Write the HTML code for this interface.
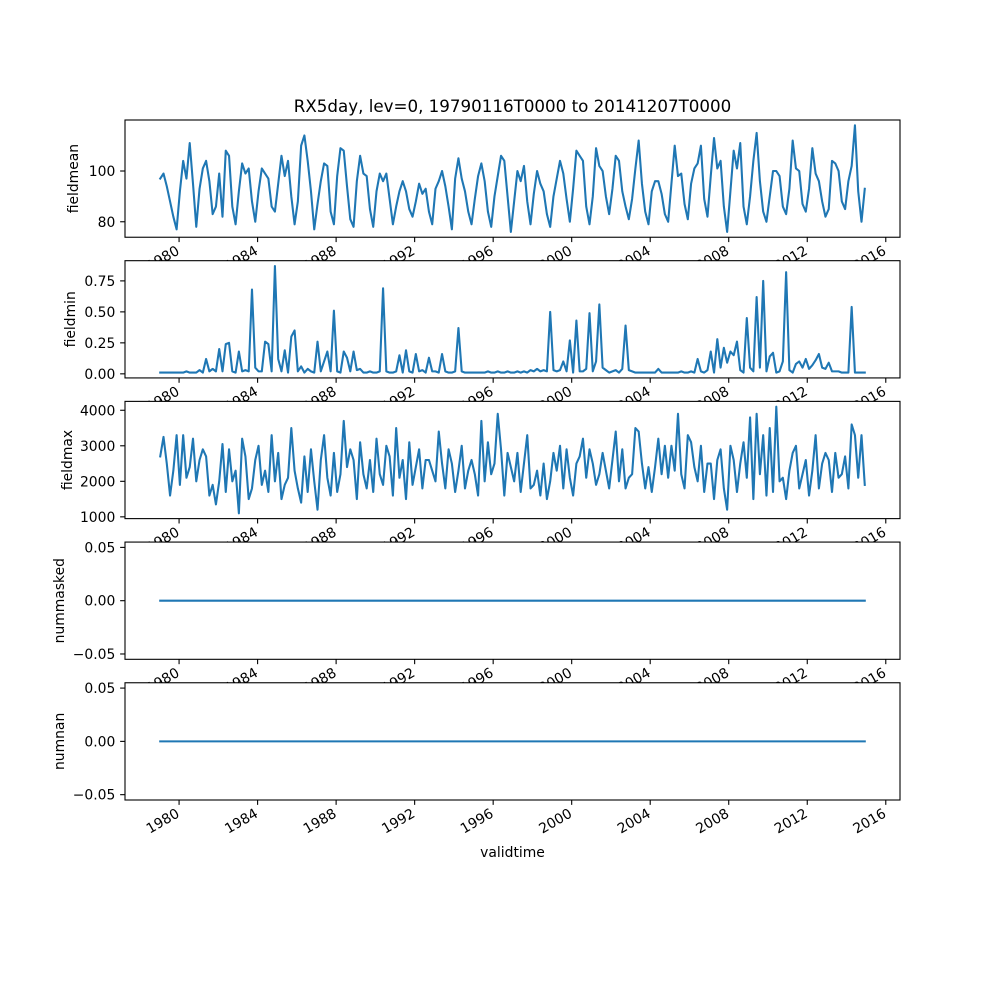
<!DOCTYPE html>
<html><head><meta charset="utf-8">
<style>
html,body{margin:0;padding:0;background:#fff;}
svg{display:block;font-family:"DejaVu Sans","Liberation Sans",sans-serif;}
</style></head>
<body>
<svg id="fig" width="1000" height="1000" viewBox="0 0 1000 1000" xmlns="http://www.w3.org/2000/svg">
<rect x="0" y="0" width="1000" height="1000" fill="#fff"/>
<text x="512.5" y="112" text-anchor="middle" font-size="16.7">RX5day, lev=0, 19790116T0000 to 20141207T0000</text>
<text x="512.5" y="857" text-anchor="middle" font-size="13.9">validtime</text>
</svg>
<script>
const startYear = 1979.04;
const endYear = 2014.93;
const xTickYears = [1980,1984,1988,1992,1996,2000,2004,2008,2012,2016];

const fieldmean = [
97,99,94,88,82,77, 92,104,97,111,95,78, 93,101,104,96,83,86, 99,82,108,106,86,79,
92,103,99,101,88,80, 92,101,99,97,86,84, 95,106,98,104,90,79, 88,110,114,104,92,77,
87,96,103,102,84,79, 98,109,108,94,81,78, 96,106,99,98,85,78, 92,99,96,99,89,79,
86,92,96,92,85,82, 88,95,91,93,84,79, 93,96,100,94,86,77, 97,105,97,92,84,79,
89,98,103,96,84,78, 90,98,106,104,90,76, 88,100,96,102,88,79, 91,100,95,92,83,78,
90,97,104,99,89,80, 93,108,106,104,86,79, 90,109,102,100,90,83, 93,106,104,92,86,81,
89,101,112,95,84,79, 92,96,96,91,83,80, 95,110,98,99,87,81, 95,101,103,110,89,82,
98,113,101,104,86,76, 92,108,101,111,86,79, 90,104,115,96,84,80, 90,100,100,98,86,83,
93,112,101,100,87,84, 93,109,99,96,88,82, 85,104,103,100,88,85, 96,102,118,92,80,93];

const fieldmin = [
.01,.01,.01,.01,.01,.01, .01,.01,.02,.01,.01,.01, .03,.01,.12,.02,.04,.02, .2,.02,.24,.25,.02,.01,
.18,.02,.03,.02,.68,.05, .02,.02,.26,.24,.02,.87, .12,.02,.19,.01,.30,.35, .02,.06,.01,.04,.02,.01,
.26,.02,.10,.18,.02,.51, .02,.01,.18,.13,.02,.18, .03,.04,.01,.01,.02,.01, .01,.02,.69,.02,.01,.01,
.02,.15,.01,.19,.02,.01, .16,.02,.03,.01,.13,.02, .02,.01,.16,.02,.01,.01, .02,.37,.02,.01,.01,.01,
.01,.01,.01,.01,.02,.01, .01,.02,.01,.01,.02,.01, .01,.02,.01,.02,.01,.03, .02,.04,.02,.03,.02,.50,
.03,.02,.03,.10,.02,.27, .01,.43,.02,.02,.04,.49, .02,.10,.56,.05,.03,.01, .02,.03,.01,.04,.39,.03,
.02,.01,.01,.01,.01,.01, .01,.01,.04,.01,.01,.01, .01,.01,.01,.02,.01,.01, .02,.01,.12,.02,.01,.03,
.18,.01,.28,.05,.21,.09, .18,.15,.26,.03,.01,.45, .05,.02,.62,.05,.75,.02, .14,.17,.01,.02,.10,.82,
.03,.01,.08,.10,.05,.12, .04,.07,.11,.16,.05,.04, .09,.02,.02,.02,.01,.01, .01,.54,.01,.01,.01,.01];

const fieldmax = [
2700,3250,2500,1600,2300,3300, 1900,3300,2100,2400,3200,2000, 2600,2900,2700,1600,1900,1350, 2000,3050,1700,2900,2000,2300,
1100,3200,2700,1500,1800,2600, 3000,1900,2300,1700,3300,2000, 2800,1500,1900,2100,3500,2300, 1800,1400,2700,1700,2900,2000,
1200,2600,3300,2100,1600,2800, 1700,2200,3700,2400,2900,2600, 1500,3100,2200,1800,2600,1700, 3200,2200,1900,3000,2700,1600,
3500,2100,2600,1500,3100,1900, 2400,2900,1800,2600,2600,2300, 2000,3400,2500,1800,2900,2500, 1700,2300,3000,1800,2300,2600,
2200,1600,3700,2000,3100,2200, 2500,3900,2900,1600,2800,2400, 2000,2800,1700,2500,3300,1800, 1900,2300,1600,2500,1500,2000,
2800,2300,3000,1800,2900,2100, 1600,2500,2700,3200,2100,2900, 2500,1900,2200,2800,2300,1800, 2600,3400,2000,2900,1800,2100,
2200,3500,3400,2500,1800,2400, 1700,2400,3200,2200,3000,2100, 3000,2300,3900,2200,1800,3300, 3100,2400,2000,3000,1700,2500,
2500,1500,2600,2900,1800,1200, 3000,2600,1700,2500,3100,2100, 3800,1500,3900,2200,3300,1600, 3500,1700,4100,2000,2100,1500,
2300,2800,3000,1800,2200,2600, 1600,2300,3300,1800,2500,2800, 2600,1700,2800,2100,2200,2700, 1800,3600,3300,2100,3300,1900];

const nummasked = [0,0];
const numnan = [0,0];

const yTicks1 = [80,100];
const yTicks2 = [0,0.25,0.5,0.75];
const yTicks3 = [1000,2000,3000,4000];
const yTicks45 = [-0.05,0,0.05];

const NS = "http://www.w3.org/2000/svg";
const svg = document.getElementById('fig');
const L = 125, R = 900, TOP = 120, PH = 117.24, GAP = 23.45;
const span = endYear - startYear, xmin = startYear - 0.05*span, xmax = endYear + 0.05*span;
function xs(t){ return L + (t - xmin)/(xmax - xmin)*(R - L); }
function mk(tag, attrs, parent){ const e=document.createElementNS(NS,tag); for(const k in attrs) e.setAttribute(k,attrs[k]); (parent||svg).appendChild(e); return e; }
function fmt(v, dec){ const s = Math.abs(v).toFixed(dec); return (v<0?'\u2212':'')+s; }

function panel(idx, name, label, series, times, yTicks, dec, labelX){
  const top = TOP + idx*(PH+GAP), bot = top + PH;
  let mn=Math.min(...series), mx=Math.max(...series);
  if(mn===mx){ mn-=0.055; mx+=0.055; } else { const m=(mx-mn)*0.05; mn-=m; mx+=m; }
  const ys = v => bot - (v-mn)/(mx-mn)*PH;
  const g = mk('g',{});
  
  
  const bg = mk('rect',{x:L,y:top,width:R-L,height:PH,fill:'#fff'},g);
  
  
  const pts = series.map((v,i)=>xs(times[i]).toFixed(2)+','+ys(v).toFixed(2)).join(' ');
  const line = mk('polyline',{points:pts,fill:'none',stroke:'#1f77b4','stroke-width':2.08,'stroke-linejoin':'round','stroke-linecap':'square'},g);
  
  
  const fr = mk('rect',{x:L,y:top,width:R-L,height:PH,fill:'none',stroke:'#000','stroke-width':1.1},g);
  
  
  yTicks.forEach(v=>{
    const y = ys(v);
    const tk = mk('line',{x1:L,x2:L-4.86,y1:y,y2:y,stroke:'#000','stroke-width':1.1},g);
    
    
    const tx = mk('text',{x:L-9.7,y:y+5,'text-anchor':'end','font-size':13.9},g);
    tx.textContent = fmt(v,dec);
    
    
  });
  const yl = mk('text',{x:0,y:0,'text-anchor':'middle','font-size':13.9,transform:'translate('+labelX+','+(top+PH/2)+') rotate(-90)'},g);
  yl.textContent = label;
  
  
  xTickYears.forEach(yr=>{
    const x = xs(yr);
    const tk = mk('line',{x1:x,x2:x,y1:bot,y2:bot+4.86,stroke:'#000','stroke-width':1.1},g);
    
    
    const tx = mk('text',{x:0,y:0,dy:'0.76em','text-anchor':'end','font-size':13.9,transform:'translate('+(x-4)+','+(bot+7)+') rotate(-30)'},g);
    tx.textContent = String(yr);
    
    
  });
}
const step = (endYear-startYear)/(fieldmean.length-1);
const tMonthly = fieldmean.map((_,i)=>startYear+i*step);
const tFlat = [startYear, endYear];
panel(0,'fieldmean','fieldmean',fieldmean,tMonthly,yTicks1,0,78);
panel(1,'fieldmin','fieldmin',fieldmin,tMonthly,yTicks2,2,75);
panel(2,'fieldmax','fieldmax',fieldmax,tMonthly,yTicks3,0,72);
panel(3,'nummasked','nummasked',nummasked,tFlat,yTicks45,2,64);
panel(4,'numnan','numnan',numnan,tFlat,yTicks45,2,64);
</script>
</body></html>
